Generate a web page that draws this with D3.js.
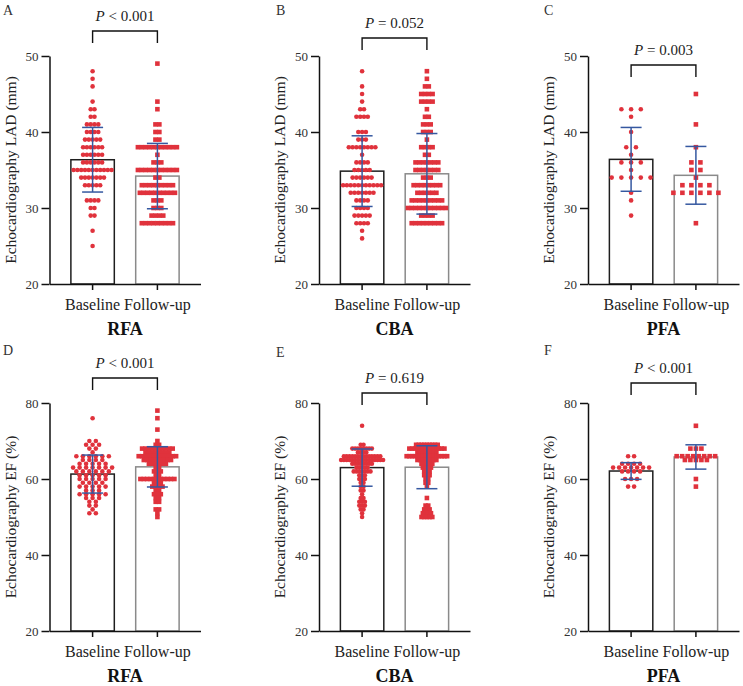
<!DOCTYPE html>
<html>
<head>
<meta charset="utf-8">
<script src="https://cdn.jsdelivr.net/npm/d3@7"></script>
<style>
  body { margin: 0; background: #fff; }
  svg text { font-family: "Liberation Serif", "Times New Roman", serif; }
</style>
</head>
<body>
<div id="chart"></div>
<script>
// Categories
var methods = ["RFA", "CBA", "PFA"];
var groups = ["Baseline", "Follow-up"];
var panelLetters = [["A", "B", "C"], ["D", "E", "F"]];
var yTitles = ["Echocardiography LAD (mm)", "Echocardiography EF (%)"];
var ladTicks = [20, 30, 40, 50];
var efTicks = [20, 40, 60, 80];

// Bar heights (mean) and error bars (SD), [baseline, follow-up] per method
var ladMean = [[36.35, 34.2], [34.85, 34.5], [36.4, 34.3]];
var ladSD = [[4.25, 4.3], [4.65, 5.3], [4.2, 3.8]];
var efMean = [[61.3, 63.2], [63.0, 63.1], [62.1, 65.8]];
var efSD = [[5.0, 5.3], [4.9, 5.65], [2.2, 3.2]];

// P values
var ladP = ["< 0.001", "= 0.052", "= 0.003"];
var efP = ["< 0.001", "= 0.619", "< 0.001"];

// Individual points as [value, how many patients at that value]
var ladRfaBase = [[48,1],[47,1],[46,1],[44,1],[43,2],[42,2],[41,4],[40,4],[39,5],[38,6],[37,6],[36,6],[35,11],[34,7],[33,5],[31,4],[30,2],[29,2],[27,1],[25,1]];
var ladRfaFu = [[49,1],[44,1],[43,1],[41,2],[40,2],[39,2],[38,11],[37,1],[36,3],[35,11],[34,2],[33,9],[32,10],[31,3],[30,3],[29,4],[28,9]];
var ladCbaBase = [[48,1],[46,1],[45,1],[44,1],[43,2],[42,4],[40,3],[39,3],[38,8],[37,1],[36,4],[35,5],[34,6],[33,11],[32,7],[31,4],[30,4],[29,5],[28,4],[27,1],[26,1]];
var ladCbaFu = [[48,1],[47,1],[46,2],[45,4],[44,4],[43,1],[42,2],[41,3],[40,3],[39,1],[38,4],[37,2],[36,7],[35,7],[34,3],[33,8],[32,6],[31,9],[30,11],[29,4],[28,9]];
var ladPfaBase = [[43,3],[42,1],[40,1],[38,2],[37,1],[36,3],[35,1],[34,5],[32,1],[31,1],[29,1]];
var ladPfaFu = [[45,1],[41,1],[38,1],[36,2],[35,2],[34,1],[33,4],[32,6],[28,1]];

var efRfaBase = [[76,1],[70,2],[69,3],[68,2],[67,1],[66,6],[65,4],[64,5],[63,7],[62,6],[61,5],[60,5],[59,4],[58,5],[57,3],[56,5],[55,3],[54,2],[53,2],[52,1],[51,2]];
var efRfaFu = [[78,1],[76,1],[73,1],[70,1],[69,2],[68,10],[67,8],[66,12],[65,9],[64,6],[63,2],[62,3],[61,2],[60,11],[59,3],[58,4],[57,2],[56,3],[55,2],[54,2],[52,2],[51,1],[50,1]];
var efCbaBase = [[74,1],[69,2],[68,8],[67,4],[66,14],[65,16],[64,8],[63,5],[62,7],[61,3],[60,3],[59,2],[58,2],[57,2],[56,1],[55,2],[54,3],[53,3],[52,2],[51,1],[50,1]];
var efCbaFu = [[69,9],[68,14],[67,8],[66,16],[65,8],[64,5],[63,4],[62,3],[61,3],[60,2],[59,2],[58,1],[55,1],[53,2],[52,3],[51,4],[50,5]];
var efPfaBase = [[66,2],[64,4],[63,7],[62,4],[60,3],[58,2]];
var efPfaFu = [[74,1],[68,3],[66,8],[65,5],[60,1],[58,1]];

var ladPoints = [[ladRfaBase, ladRfaFu], [ladCbaBase, ladCbaFu], [ladPfaBase, ladPfaFu]];
var efPoints = [[efRfaBase, efRfaFu], [efCbaBase, efCbaFu], [efPfaBase, efPfaFu]];

// Layout
var svgWidth = 743;
var svgHeight = 686;
var colX = [49.5, 319, 588];
var plotW = 151;
var rows = [
  { top: 56, bottom: 284, domain: [20, 50], ticks: ladTicks, mean: ladMean, sd: ladSD, p: ladP, pts: ladPoints,
    bracketY: [31, 38, 65], letterY: [15, 15, 15] },
  { top: 403, bottom: 631, domain: [20, 80], ticks: efTicks, mean: efMean, sd: efSD, p: efP, pts: efPoints,
    bracketY: [378, 393, 383], letterY: [355, 357, 355] }
];
var letterX = [3, 276, 544];
// horizontal spread of points sharing a value, per panel and group
var spread = [
  [[3.8, 3.9], [3.8, 3.8], [9.7, 9.0]],
  [[6.5, 3.4], [2.8, 2.7], [6.0, 5.5]]
];
var dotR = 2.3;

var red = "#e0323c";
var blue = "#3558a0";
var barStroke = ["#1e1e1e", "#8a8a8a"];
var textColor = "#222";

var svg = d3.select("#chart")
  .append("svg")
  .attr("width", svgWidth)
  .attr("height", svgHeight);

rows.forEach(function (row, r) {
  methods.forEach(function (method, c) {
    var g = svg.append("g");

    var x = d3.scaleBand()
      .domain(groups)
      .range([colX[c], colX[c] + plotW])
      .padding(0.33);

    var y = d3.scaleLinear()
      .domain(row.domain)
      .range([row.bottom, row.top]);

    var bw = x.bandwidth();

    // bars
    g.selectAll("rect.bar")
      .data(groups)
      .enter()
      .append("rect")
      .attr("class", "bar")
      .attr("x", d => x(d))
      .attr("y", (d, i) => y(row.mean[c][i]))
      .attr("width", bw)
      .attr("height", (d, i) => y(row.domain[0]) - y(row.mean[c][i]))
      .attr("fill", "#fff")
      .attr("stroke", (d, i) => barStroke[i])
      .attr("stroke-width", 1.5);

    // individual points
    groups.forEach(function (grp, i) {
      var pts = [];
      row.pts[c][i].forEach(function (vn) {
        for (var k = 0; k < vn[1]; k++) {
          pts.push({ v: vn[0], off: (k - (vn[1] - 1) / 2) * spread[r][c][i] });
        }
      });
      var cx = x(grp) + bw / 2;
      if (i === 0) {
        g.selectAll("circle.pt" + i)
          .data(pts)
          .enter()
          .append("circle")
          .attr("cx", d => cx + d.off)
          .attr("cy", d => y(d.v))
          .attr("r", dotR)
          .attr("fill", red);
      } else {
        g.selectAll("rect.pt" + i)
          .data(pts)
          .enter()
          .append("rect")
          .attr("x", d => cx + d.off - dotR)
          .attr("y", d => y(d.v) - dotR)
          .attr("width", dotR * 2)
          .attr("height", dotR * 2)
          .attr("fill", red);
      }
    });

    // error bars (mean +/- SD)
    groups.forEach(function (grp, i) {
      var cx = x(grp) + bw / 2;
      var hi = y(row.mean[c][i] + row.sd[c][i]);
      var lo = y(row.mean[c][i] - row.sd[c][i]);
      var eb = g.append("g")
        .attr("stroke", blue)
        .attr("stroke-width", 1.5);
      eb.append("line").attr("x1", cx).attr("x2", cx).attr("y1", hi).attr("y2", lo);
      eb.append("line").attr("x1", cx - 10.5).attr("x2", cx + 10.5).attr("y1", hi).attr("y2", hi);
      eb.append("line").attr("x1", cx - 10.5).attr("x2", cx + 10.5).attr("y1", lo).attr("y2", lo);
    });

    // axes
    var leftAxis = d3.axisLeft(y)
      .tickValues(row.ticks)
      .tickSize(8)
      .tickPadding(3)
      .tickSizeOuter(0);
    var yAxis = g.append("g")
      .attr("transform", `translate(${colX[c]}, 0)`)
      .call(leftAxis);
    yAxis.selectAll("text")
      .attr("font-size", 13)
      .attr("fill", "#333");

    var bottomAxis = d3.axisBottom(x)
      .tickSize(6)
      .tickPadding(9)
      .tickSizeOuter(0);
    var xAxis = g.append("g")
      .attr("transform", `translate(0, ${row.bottom})`)
      .call(bottomAxis);
    xAxis.selectAll("text")
      .attr("font-size", 16)
      .attr("fill", textColor);

    g.selectAll(".domain, .tick line")
      .attr("stroke", "#111")
      .attr("stroke-width", 1.5);

    // y axis title
    g.append("text")
      .attr("transform", "rotate(-90)")
      .attr("x", -(row.top + row.bottom) / 2)
      .attr("y", colX[c] - 39)
      .attr("dy", "0.35em")
      .attr("text-anchor", "middle")
      .attr("font-size", 15.5)
      .attr("fill", textColor)
      .text(yTitles[r]);

    // method name under the plot
    g.append("text")
      .attr("x", colX[c] + plotW / 2)
      .attr("y", row.bottom + 51)
      .attr("text-anchor", "middle")
      .attr("font-size", 18)
      .attr("font-weight", "bold")
      .attr("fill", "#111")
      .text(method);

    // panel letter
    g.append("text")
      .attr("x", letterX[c])
      .attr("y", row.letterY[c])
      .attr("font-size", 14)
      .attr("fill", "#333")
      .text(panelLetters[r][c]);

    // significance bracket
    var x1 = x(groups[0]) + bw / 2;
    var x2 = x(groups[1]) + bw / 2;
    var by = row.bracketY[c];
    g.append("path")
      .attr("d", `M${x1},${by + 12}V${by}H${x2}V${by + 12}`)
      .attr("fill", "none")
      .attr("stroke", "#111")
      .attr("stroke-width", 1.4);

    var pText = g.append("text")
      .attr("x", (x1 + x2) / 2)
      .attr("y", by - 10)
      .attr("text-anchor", "middle")
      .attr("font-size", 15)
      .attr("fill", textColor);
    pText.append("tspan").attr("font-style", "italic").text("P");
    pText.append("tspan").text(" " + row.p[c]);
  });
});
</script>
</body>
</html>
